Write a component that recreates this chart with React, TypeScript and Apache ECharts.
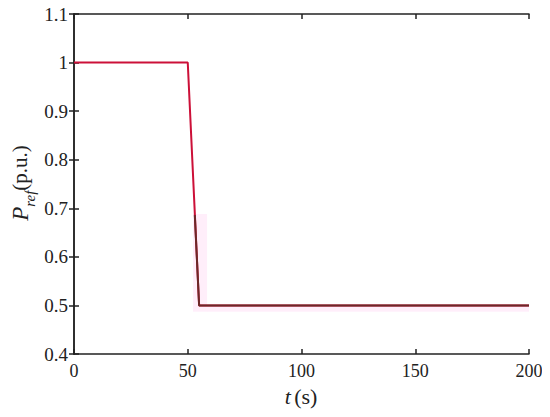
import React, { useEffect, useRef } from "react";
import * as echarts from "echarts";

const tRef = [0, 50, 55, 200];
const pRef = [1, 1, 0.5, 0.5];
const tOverlay = [53.1, 55, 200];
const pOverlay = [0.686, 0.5, 0.5];
const shadeBoxes = [
  [52.3, 0.688, 58.5, 0.487],
  [58.5, 0.5, 200, 0.487],
];
const xTicks = [0, 50, 100, 150, 200];
const yTicks = [0.4, 0.5, 0.6, 0.7, 0.8, 0.9, 1, 1.1];

const FONT = "Liberation Serif";

export default function App() {
  const ref = useRef<HTMLDivElement>(null);
  useEffect(() => {
    if (!ref.current) return;
    const chart = echarts.init(ref.current, undefined, { renderer: "svg" });
    const axisCommon = {
      type: "value" as const,
      axisLine: { show: true, lineStyle: { color: "#222", width: 1.5 } },
      axisTick: { show: true, inside: true, length: 5, lineStyle: { color: "#222", width: 1.5 } },
      axisLabel: { show: false },
      splitLine: { show: false },
    };
    chart.setOption({
      animation: false,
      backgroundColor: "#fff",
      grid: { left: 74, right: 21, top: 14, bottom: 63 },
      xAxis: [
        { ...axisCommon, min: 0, max: 200, interval: 50, position: "bottom" },
        { ...axisCommon, min: 0, max: 200, interval: 50, position: "top" },
      ],
      yAxis: [
        { ...axisCommon, min: 0.4, max: 1.1, interval: 0.1, position: "left" },
        { ...axisCommon, min: 0.4, max: 1.1, interval: 0.1, position: "right" },
      ],
      series: [
        {
          type: "line",
          data: tRef.map((t, i) => [t, pRef[i]]),
          showSymbol: false,
          lineStyle: { color: "#cc1038", width: 2 },
          z: 2,
        },
        {
          type: "line",
          data: tOverlay.map((t, i) => [t, pOverlay[i]]),
          showSymbol: false,
          lineStyle: { color: "#6b2828", width: 2 },
          z: 3,
          markArea: {
            silent: true,
            itemStyle: { color: "rgba(255, 200, 240, 0.3)" },
            data: shadeBoxes.map((b) => [
              { coord: [b[0], b[1]] },
              { coord: [b[2], b[3]] },
            ]),
          },
        },
      ],
    });

    const x0 = chart.convertToPixel({ xAxisIndex: 0 }, 0) as number;
    const yBottom = chart.convertToPixel({ yAxisIndex: 0 }, 0.4) as number;
    const xLabels = xTicks.map((v) => ({
      type: "text",
      x: chart.convertToPixel({ xAxisIndex: 0 }, v) as number,
      y: yBottom + 17,
      style: {
        text: String(v),
        align: "center",
        verticalAlign: "middle",
        fontFamily: FONT,
        fontSize: 18,
        fill: "#222",
      },
    }));
    const yLabels = yTicks.map((v) => ({
      type: "text",
      x: x0 - 6,
      y: chart.convertToPixel({ yAxisIndex: 0 }, v) as number,
      style: {
        text: String(v),
        align: "right",
        verticalAlign: "middle",
        fontFamily: FONT,
        fontSize: 19,
        fill: "#222",
      },
    }));

    chart.setOption({
      graphic: [
        ...xLabels,
        ...yLabels,
        {
          type: "text",
          x: 20,
          y: 183,
          rotation: Math.PI / 2,
          style: {
            text: "{p|P}{s|ref}{n|(p.u.)}",
            align: "center",
            verticalAlign: "middle",
            fill: "#222",
            rich: {
              p: { fontFamily: FONT, fontStyle: "italic", fontSize: 23, lineHeight: 34, fill: "#222" },
              s: { fontFamily: FONT, fontStyle: "italic", fontSize: 15, lineHeight: 10, verticalAlign: "bottom", fill: "#222" },
              n: { fontFamily: FONT, fontSize: 21, lineHeight: 34, fill: "#222" },
            },
          },
        },
        {
          type: "text",
          x: 301,
          y: 396,
          style: {
            text: "{i|t} {n|(s)}",
            align: "center",
            verticalAlign: "middle",
            rich: {
              i: { fontFamily: FONT, fontStyle: "italic", fontSize: 22, fill: "#222" },
              n: { fontFamily: FONT, fontSize: 22, fill: "#222" },
            },
          },
        },
      ],
    });
    return () => chart.dispose();
  }, []);
  return <div ref={ref} style={{ width: 550, height: 417, margin: -8 }} />;
}
